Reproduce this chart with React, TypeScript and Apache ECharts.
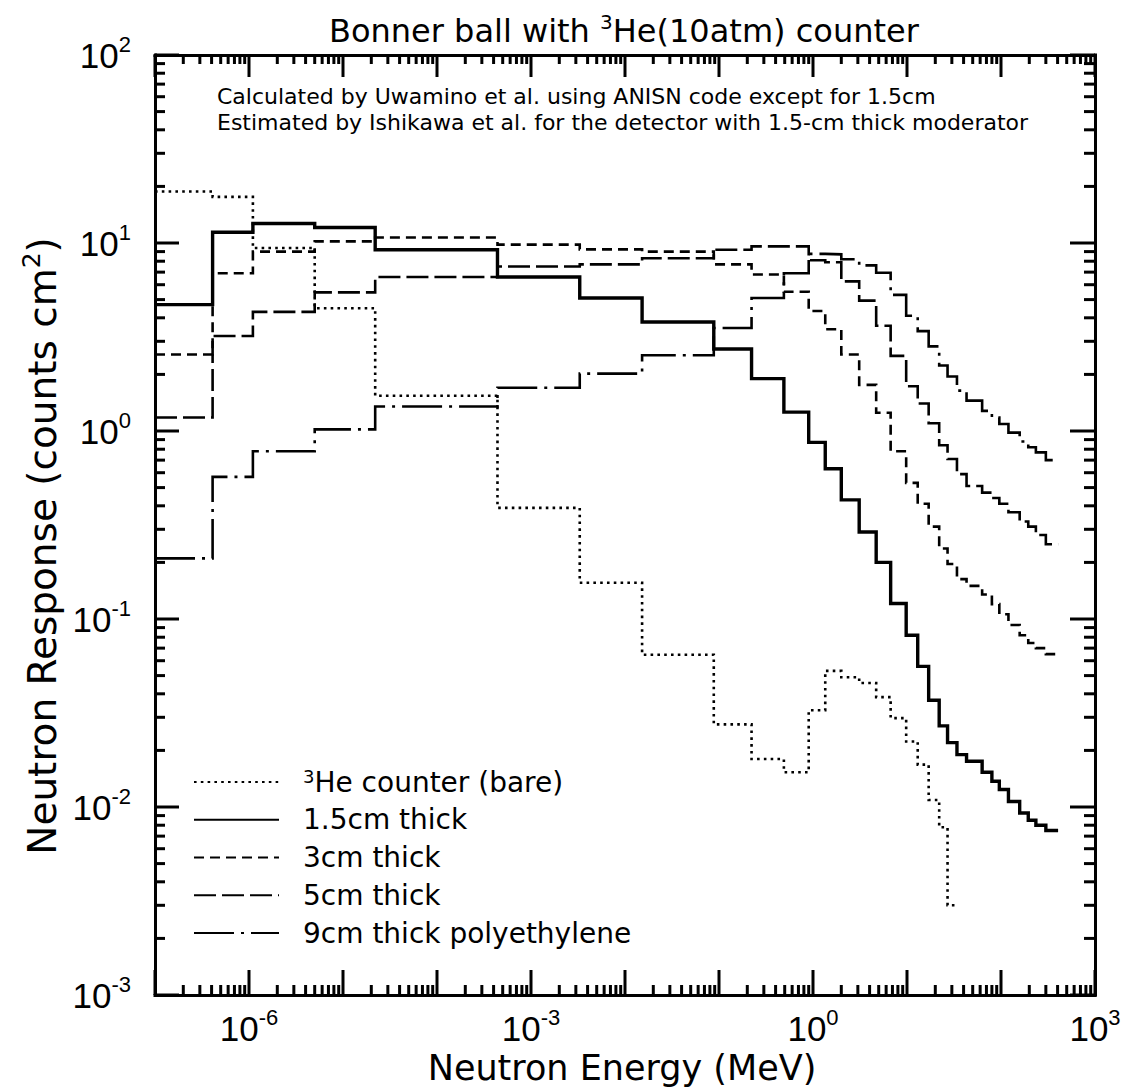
import { useEffect, useRef } from 'react';
import * as echarts from 'echarts';

// ---------- data ----------
// energy group boundaries (MeV) shared by all response histograms
const binEdgesMeV = [
  1e-7, 4.1e-7, 1.1e-6, 5.0e-6, 2.2e-5, 4.4e-4, 3.3e-3, 0.0152, 0.088, 0.222, 0.49,
  0.9, 1.35, 2.0, 3.1, 4.7, 6.7, 9.8, 13, 17, 22, 27, 34, 43, 63, 80, 96, 120, 158,
  195, 235, 300, 405,
];

// responses (counts cm^2) per energy group
const bareResponse = [
  18.8, 17.6, 9.4, 4.5, 1.54, 0.39, 0.156, 0.0646, 0.0275, 0.018, 0.0153, 0.0327,
  0.053, 0.049, 0.0457, 0.0384, 0.0297, 0.0223, 0.0168, 0.0109, 0.0078, 0.003,
];
const response15cm = [
  4.7, 11.4, 12.7, 12.1, 9.2, 6.6, 5.1, 3.8, 2.73, 1.9, 1.26, 0.87, 0.63, 0.43, 0.29,
  0.2, 0.121, 0.082, 0.056, 0.037, 0.027, 0.022, 0.019, 0.0175, 0.0153, 0.0137,
  0.0124, 0.0107, 0.0093, 0.0085, 0.008, 0.0075,
];
const response3cm = [
  2.55, 6.9, 9.0, 10.2, 10.7, 9.8, 9.25, 9.0, 7.7, 6.8, 5.5, 4.35, 3.48, 2.55, 1.76,
  1.25, 0.78, 0.53, 0.41, 0.31, 0.237, 0.196, 0.163, 0.15, 0.135, 0.12, 0.106, 0.093,
  0.082, 0.0746, 0.07, 0.065,
];
const response5cm = [
  1.18, 3.2, 4.3, 5.46, 6.6, 7.5, 7.7, 8.3, 9.2, 9.6, 9.6, 8.1, 7.9, 6.25, 4.94, 3.63,
  2.51, 1.73, 1.4, 1.1, 0.84, 0.71, 0.59, 0.51, 0.47, 0.44, 0.41, 0.37, 0.33, 0.31,
  0.28, 0.25,
];
const response9cm = [
  0.21, 0.57, 0.78, 1.02, 1.35, 1.7, 2.02, 2.53, 3.53, 5.1, 6.9, 8.75, 8.7, 8.2, 7.6,
  6.95, 5.3, 4.1, 3.4, 2.82, 2.23, 1.95, 1.64, 1.45, 1.28, 1.18, 1.09, 0.98, 0.88,
  0.82, 0.77, 0.7,
];

const seriesNames = [
  '3He counter (bare)',
  '1.5cm thick',
  '3cm thick',
  '5cm thick',
  '9cm thick polyethylene',
];

// axis tick structure
const xRange = [1e-7, 1e3];
const yRange = [1e-3, 1e2];
const xTickExponents = [-7, -6, -5, -4, -3, -2, -1, 0, 1, 2, 3];
const xLabelExponents = [-6, -3, 0, 3];
const yTickExponents = [-3, -2, -1, 0, 1, 2];
const yLabelExponents = [-3, -2, -1, 0, 1, 2];
const minorMultipliers = [2, 3, 4, 5, 6, 7, 8, 9];

const titleText = '{n|Bonner ball with }{s|3}{n|He(10atm) counter}';
const noteLines = [
  'Calculated by Uwamino et al. using ANISN code except for 1.5cm',
  'Estimated by Ishikawa et al. for the detector with 1.5-cm thick moderator',
];
const xTitle = 'Neutron Energy (MeV)';
const yTitle = '{n|Neutron Response (counts cm}{s|2}{n|)}';

// ---------- helpers ----------
const BLACK = '#000';
const FONT = 'DejaVu Sans';
const NUMFONT = 'Liberation Sans';

const pow10 = (e: number) => Math.pow(10, e);
const minorValues = (exps: number[]) => {
  const out: number[] = [];
  for (let i = 0; i < exps.length - 1; i++) {
    for (const m of minorMultipliers) out.push(m * pow10(exps[i]));
  }
  return out;
};

const toSteps = (values: number[]) => {
  const pts: [number, number][] = [];
  values.forEach((v, i) => {
    if (v == null) return;
    pts.push([binEdgesMeV[i], v], [binEdgesMeV[i + 1], v]);
  });
  return pts;
};

// tick kinds: 0 = x major, 1 = x minor, 2 = y major, 3 = y minor
const tickData = () => {
  const d: [number, number, number][] = [];
  xTickExponents.map(pow10).forEach((v) => d.push([v, yRange[0], 0]));
  minorValues(xTickExponents).forEach((v) => d.push([v, yRange[0], 1]));
  yTickExponents.map(pow10).forEach((v) => d.push([xRange[0], v, 2]));
  minorValues(yTickExponents).forEach((v) => d.push([xRange[0], v, 3]));
  return d;
};

// tick lengths [near side, far side]
const TICK_LEN: Record<number, [number, number]> = {
  0: [25, 22],
  1: [10, 9],
  2: [24, 25],
  3: [10, 11],
};

const tickLabelRich = {
  b: { fontSize: 35, lineHeight: 44, fontFamily: NUMFONT, color: BLACK },
  e: { fontSize: 22, lineHeight: 16, verticalAlign: 'top', fontFamily: NUMFONT, color: BLACK },
};

const labelFormatter = (value: number) => {
  const e = Math.round(Math.log10(value));
  return `{b|10}{e|${e}}`;
};

function makeAxis(dim: 'x' | 'y', position: string, labels?: number[], margin?: number) {
  const range = dim === 'x' ? xRange : yRange;
  return {
    type: 'log',
    logBase: 10,
    min: range[0],
    max: range[1],
    position,
    gridIndex: 0,
    axisLine: { show: true, onZero: false, lineStyle: { color: BLACK, width: 3, cap: 'square' } },
    axisTick: { show: false },
    axisLabel: labels
      ? {
          show: true,
          customValues: labels,
          margin,
          formatter: labelFormatter,
          rich: tickLabelRich,
          color: BLACK,
        }
      : { show: false },
    splitLine: { show: false },
    minorTick: { show: false },
    minorSplitLine: { show: false },
    axisPointer: { show: false },
    silent: true,
  };
}

const lineStyles = [
  { width: 2.6, type: [2.6, 4.2] },
  { width: 3.4, type: 'solid' },
  { width: 2.6, type: [10, 6] },
  { width: 2.6, type: [22, 6] },
  { width: 2.6, type: [40, 7, 3, 7] },
];

const seriesValues = [bareResponse, response15cm, response3cm, response5cm, response9cm];

export default function App() {
  const ref = useRef<HTMLDivElement>(null);

  useEffect(() => {
    if (!ref.current) return;
    const chart = echarts.init(ref.current, undefined, { renderer: 'svg' });

    const tickSeries = {
      type: 'custom',
      name: 'ticks',
      xAxisIndex: 0,
      yAxisIndex: 0,
      silent: true,
      clip: false,
      z: 5,
      data: tickData(),
      renderItem: (_params: any, api: any) => {
        const kind = api.value(2);
        const [nearLen, farLen] = TICK_LEN[kind];
        const style = { stroke: BLACK, lineWidth: 3 };
        if (kind < 2) {
          const x = api.value(0);
          const b = api.coord([x, yRange[0]]);
          const t = api.coord([x, yRange[1]]);
          return {
            type: 'group',
            children: [
              { type: 'line', shape: { x1: b[0], y1: b[1], x2: b[0], y2: b[1] - nearLen }, style },
              { type: 'line', shape: { x1: t[0], y1: t[1], x2: t[0], y2: t[1] + farLen }, style },
            ],
          };
        }
        const y = api.value(1);
        const l = api.coord([xRange[0], y]);
        const r = api.coord([xRange[1], y]);
        return {
          type: 'group',
          children: [
            { type: 'line', shape: { x1: l[0], y1: l[1], x2: l[0] + nearLen, y2: l[1] }, style },
            { type: 'line', shape: { x1: r[0], y1: r[1], x2: r[0] - farLen, y2: r[1] }, style },
          ],
        };
      },
    };

    const option: any = {
      animation: false,
      backgroundColor: '#fff',
      grid: { left: 155, top: 55, width: 940, height: 940, containLabel: false },
      xAxis: [
        makeAxis('x', 'bottom', xLabelExponents.map(pow10), 11),
        makeAxis('x', 'top'),
      ],
      yAxis: [
        makeAxis('y', 'left', yLabelExponents.map(pow10), 24),
        makeAxis('y', 'right'),
      ],
      legend: {
        data: seriesNames,
        orient: 'vertical',
        left: 193,
        top: 767,
        padding: 0,
        itemGap: 9.75,
        itemWidth: 85,
        itemHeight: 14,
        selectedMode: false,
        itemStyle: { opacity: 0 },
        textStyle: {
          color: BLACK,
          fontFamily: FONT,
          fontSize: 28,
          rich: {
            g: { width: 19 },
            n: { fontSize: 28, lineHeight: 30, fontFamily: FONT, color: BLACK },
            s: { fontSize: 18, lineHeight: 14, verticalAlign: 'top', fontFamily: FONT, color: BLACK },
          },
        },
        formatter: (name: string) =>
          name.startsWith('3He') ? `{g|}{s|3}{n|${name.slice(1)}}` : `{g|}{n|${name}}`,
      },
      series: [
        ...seriesValues.map((vals, i) => ({
          type: 'line',
          name: seriesNames[i],
          data: toSteps(vals),
          xAxisIndex: 0,
          yAxisIndex: 0,
          symbol: 'none',
          showSymbol: false,
          silent: true,
          clip: true,
          color: BLACK,
          itemStyle: { color: BLACK },
          lineStyle: {
            color: BLACK,
            width: lineStyles[i].width,
            type: lineStyles[i].type,
            cap: 'butt',
            join: 'miter',
          },
          emphasis: { disabled: true },
          z: 3,
        })),
        tickSeries,
      ],
      graphic: [
        {
          type: 'text',
          x: 329,
          y: 31,
          style: {
            text: titleText,
            fill: BLACK,
            align: 'left',
            verticalAlign: 'middle',
            textAlign: 'left',
            textVerticalAlign: 'middle',
            rich: {
              n: { fontSize: 32, lineHeight: 38, fontFamily: FONT, fill: BLACK },
              s: { fontSize: 20, lineHeight: 16, verticalAlign: 'top', fontFamily: FONT, fill: BLACK },
            },
          },
        },
        {
          type: 'text',
          x: 217,
          y: 96,
          style: {
            text: noteLines[0],
            fill: BLACK,
            font: `22px '${FONT}'`,
            align: 'left',
            verticalAlign: 'middle',
            textAlign: 'left',
            textVerticalAlign: 'middle',
          },
        },
        {
          type: 'text',
          x: 217,
          y: 122,
          style: {
            text: noteLines[1],
            fill: BLACK,
            font: `22px '${FONT}'`,
            align: 'left',
            verticalAlign: 'middle',
            textAlign: 'left',
            textVerticalAlign: 'middle',
          },
        },
        {
          type: 'text',
          x: 622,
          y: 1068,
          style: {
            text: xTitle,
            fill: BLACK,
            font: `35px '${FONT}'`,
            align: 'center',
            verticalAlign: 'middle',
            textAlign: 'center',
            textVerticalAlign: 'middle',
          },
        },
        {
          type: 'text',
          x: 42,
          y: 546,
          rotation: Math.PI / 2,
          style: {
            text: yTitle,
            fill: BLACK,
            align: 'center',
            verticalAlign: 'middle',
            textAlign: 'center',
            textVerticalAlign: 'middle',
            rich: {
              n: { fontSize: 39, lineHeight: 46, fontFamily: FONT, fill: BLACK },
              s: { fontSize: 25, lineHeight: 20, verticalAlign: 'top', fontFamily: FONT, fill: BLACK },
            },
          },
        },
      ],
    };

    chart.setOption(option);
    return () => chart.dispose();
  }, []);

  return (
    <div
      ref={ref}
      style={{ position: 'fixed', left: 0, top: 0, width: 1134, height: 1091, background: '#fff' }}
    />
  );
}
